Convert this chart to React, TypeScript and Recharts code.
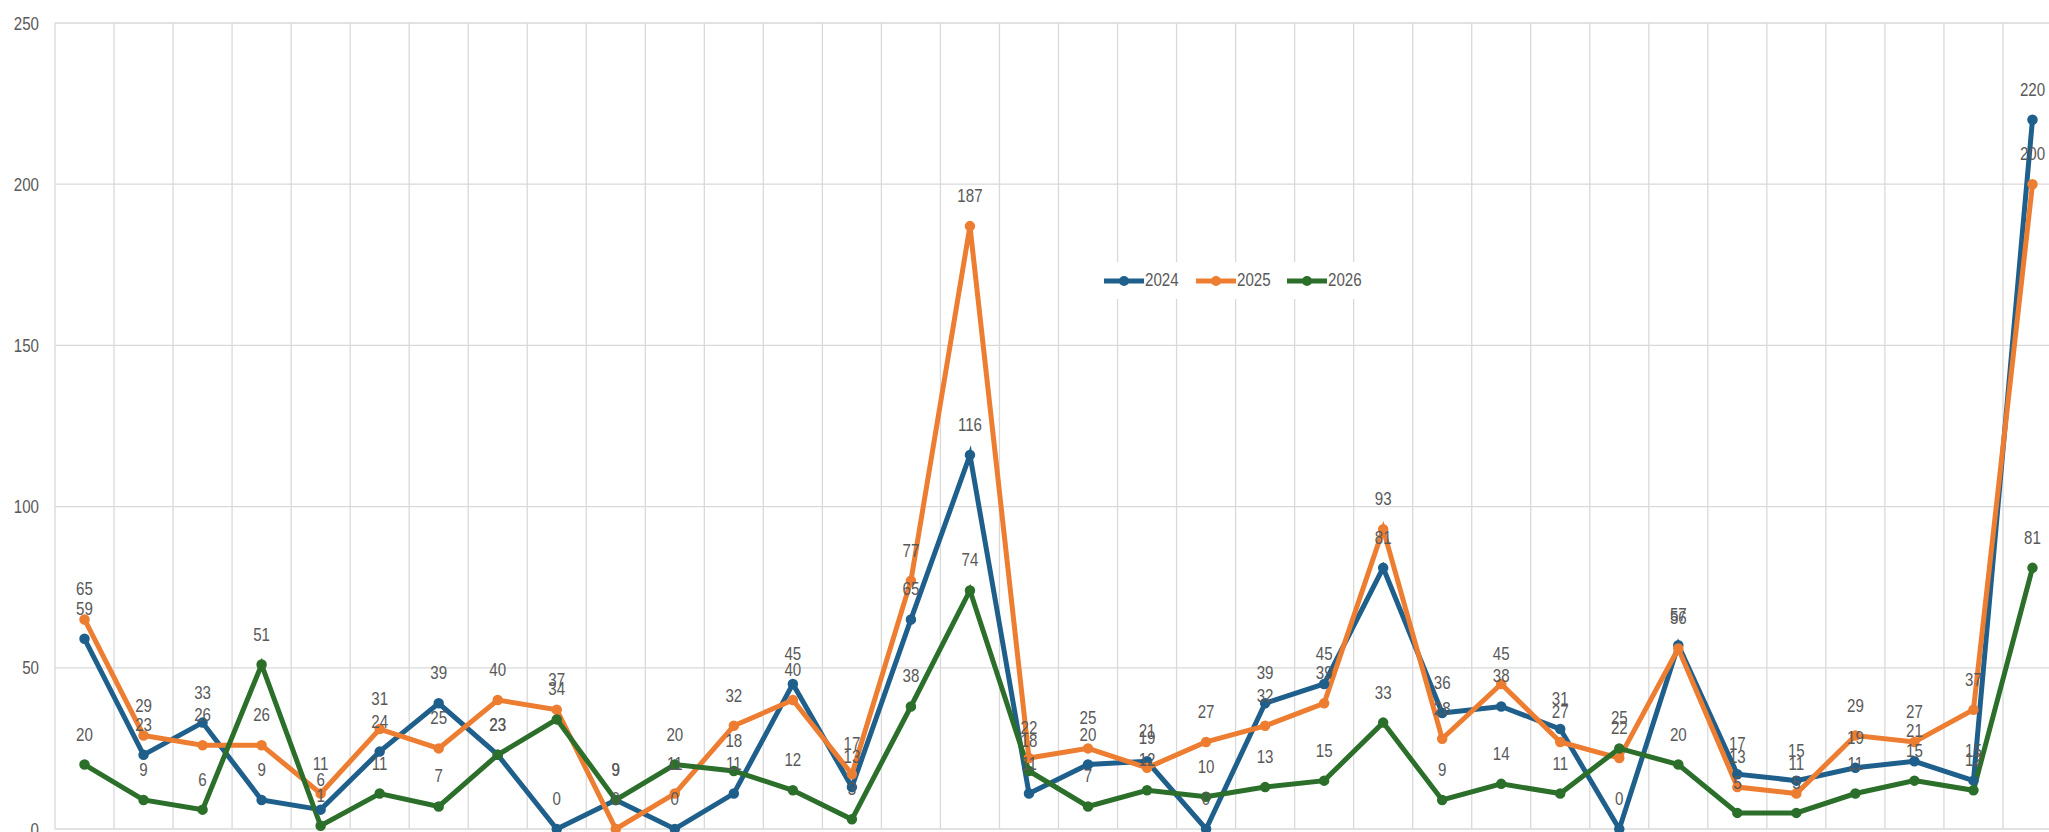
import { LineChart, Line, XAxis, YAxis, CartesianGrid, Legend, LabelList } from "recharts";

const categories = [
  "1", "2", "3", "4", "5", "6", "7", "8", "9", "10", "11", "12", "13", "14", "15", "16", "17",
  "18", "19", "20", "21", "22", "23", "24", "25", "26", "27", "28", "29", "30", "31", "32", "33", "34",
];
const values2024 = [59, 23, 33, 9, 6, 24, 39, 23, 0, 9, 0, 11, 45, 13, 65, 116, 11, 20, 21, 0, 39, 45, 81, 36, 38, 31, 0, 57, 17, 15, 19, 21, 15, 220];
const values2025 = [65, 29, 26, 26, 11, 31, 25, 40, 37, 0, 11, 32, 40, 17, 77, 187, 22, 25, 19, 27, 32, 39, 93, 28, 45, 27, 22, 56, 13, 11, 29, 27, 37, 200];
const values2026 = [20, 9, 6, 51, 1, 11, 7, 23, 34, 9, 20, 18, 12, 3, 38, 74, 18, 7, 12, 10, 13, 15, 33, 9, 14, 11, 25, 20, 5, 5, 11, 15, 12, 81];
const yTicks = [0, 50, 100, 150, 200, 250];

const series = [
  { key: "2024", color: "#1f5f8b", values: values2024 },
  { key: "2025", color: "#ed7d31", values: values2025 },
  { key: "2026", color: "#2b6f2b", values: values2026 },
];

const data = categories.map((c, i) => ({
  name: c,
  "2024": values2024[i],
  "2025": values2025[i],
  "2026": values2026[i],
}));

// no narrow font installed, so squeeze Liberation Sans horizontally
const FONT = "'Liberation Sans', Arial, sans-serif";
const SQUEEZE = 0.84;
const TEXT = "#595959";
const GRID = "#d9d9d9";

const CHART_W = 2068;
const CHART_H = 862;
const Y_W = 55;
const M_RIGHT = 6;
const PLOT_W = CHART_W - Y_W - M_RIGHT;
const HALF_BAND = PLOT_W / (categories.length * 2);

const NarrowText = ({ x, y, anchor, children }: any) => (
  <text
    transform={`translate(${x},${y}) scale(${SQUEEZE},1)`}
    textAnchor={anchor}
    fill={TEXT}
    fontSize={18}
    fontFamily={FONT}
  >
    {children}
  </text>
);

const PointLabel = (props: any) => {
  const { x, y, value } = props;
  if (x == null || y == null) return null;
  return (
    <NarrowText x={x} y={y - 24} anchor="middle">
      {value}
    </NarrowText>
  );
};

const YTick = (props: any) => {
  const { x, y, payload } = props;
  return (
    <NarrowText x={x} y={y + 6.5} anchor="end">
      {payload.value}
    </NarrowText>
  );
};

const renderLegend = () => (
  <div style={{ display: "flex", background: "#fff", padding: "8px 6px", fontFamily: FONT, fontSize: 18, color: TEXT }}>
    {series.map((s) => (
      <div key={s.key} style={{ display: "flex", alignItems: "center", width: 91.5 }}>
        <svg width={40} height={14}>
          <line x1={0} y1={7} x2={40} y2={7} stroke={s.color} strokeWidth={5} />
          <circle cx={20} cy={7} r={5} fill={s.color} />
        </svg>
        <span style={{ marginLeft: 1, display: "inline-block", transform: `scaleX(${SQUEEZE})`, transformOrigin: "left center" }}>
          {s.key}
        </span>
      </div>
    ))}
  </div>
);

export default function App() {
  return (
    <div style={{ position: "absolute", left: 0, top: 0, width: 2049, height: 832, overflow: "hidden", background: "#fff" }}>
      <LineChart
        width={CHART_W}
        height={CHART_H}
        data={data}
        margin={{ top: 23, right: M_RIGHT, bottom: CHART_H - 829, left: 0 }}
      >
        <CartesianGrid
          stroke={GRID}
          strokeWidth={1.3}
          verticalCoordinatesGenerator={({ offset }: any) =>
            Array.from({ length: categories.length + 1 }, (_, i) => offset.left + (i * offset.width) / categories.length)
          }
        />
        <XAxis
          dataKey="name"
          height={0}
          tick={false}
          tickLine={false}
          axisLine={{ stroke: GRID }}
          padding={{ left: HALF_BAND, right: HALF_BAND }}
        />
        <YAxis
          width={Y_W}
          domain={[0, 250]}
          ticks={yTicks}
          axisLine={false}
          tickLine={false}
          tickMargin={10}
          tick={<YTick />}
        />
        <Legend
          verticalAlign="middle"
          layout="horizontal"
          content={renderLegend}
          wrapperStyle={{ top: 262, left: 1098, width: "auto" }}
        />
        {series.map((s) => (
          <Line
            key={s.key}
            dataKey={s.key}
            stroke={s.color}
            strokeWidth={5}
            dot={{ r: 4, fill: s.color, stroke: s.color, strokeWidth: 2.5 }}
            activeDot={false}
            isAnimationActive={false}
          >
            <LabelList dataKey={s.key} content={<PointLabel />} />
          </Line>
        ))}
      </LineChart>
    </div>
  );
}
